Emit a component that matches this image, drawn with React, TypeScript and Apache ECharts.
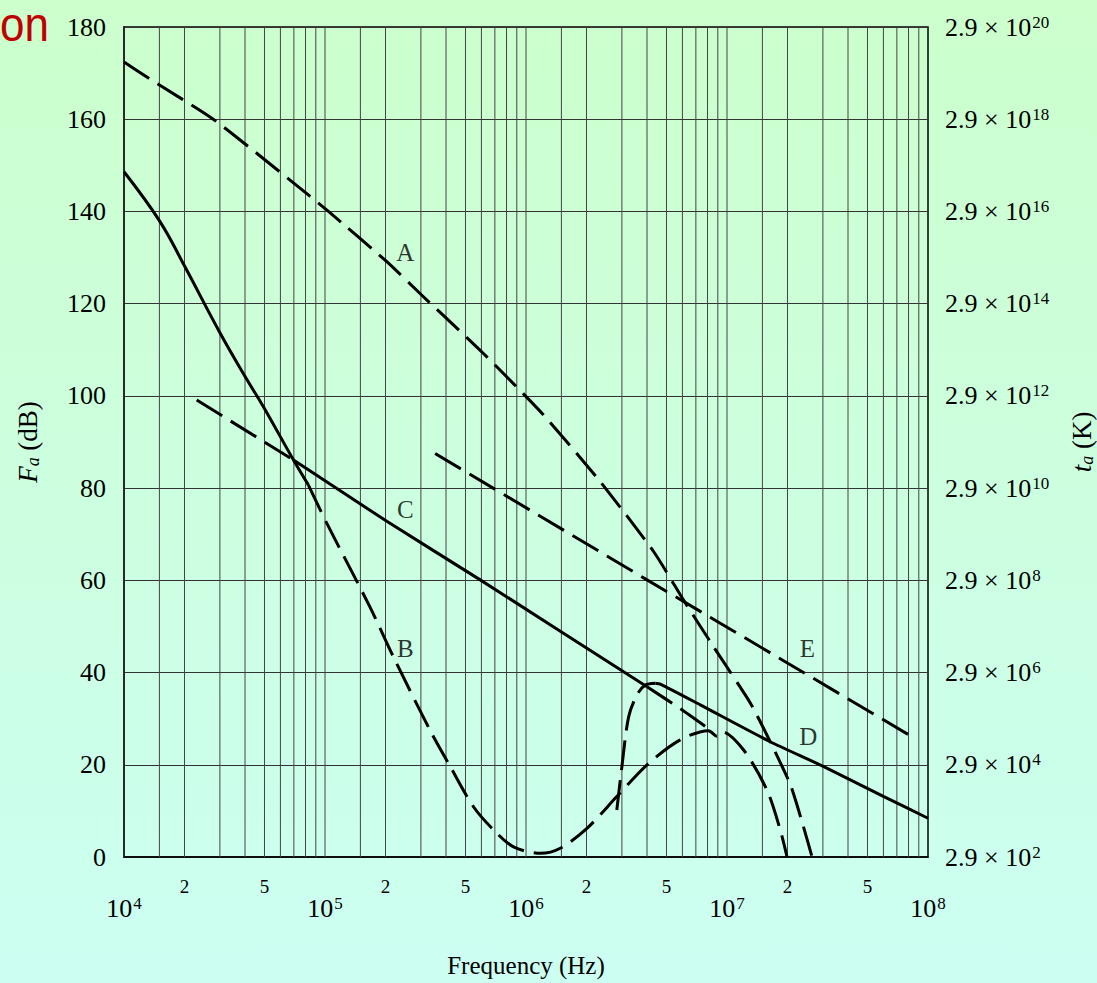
import React, { useEffect, useRef } from "react";
import * as echarts from "echarts";

// ---- data (frequency in Hz, value in dB) ----
const curveA: [number, number][] = [
  [1e4, 172.4], [1.37e4, 168.5], [2.78e4, 160], [6.7e4, 146.8], [1.04e5, 140],
  [2.03e5, 129.1], [2.97e5, 122.2], [6.14e5, 109.2], [1.22e6, 95.9], [2.34e6, 81.4],
  [4.32e6, 66.2], [6.08e6, 55.7], [8.57e6, 45.6], [1.31e7, 33.3], [1.64e7, 25.0],
  [2.07e7, 15.6], [2.4e7, 6.6], [2.65e7, 0],
];
const curveBSolid: [number, number][] = [
  [1e4, 148.6], [1.51e4, 137.8], [2.01e4, 128.0], [3.01e4, 113.6], [4.08e4, 103.6],
  [4.93e4, 97.7], [6.97e4, 86.1], [8.26e4, 80.7],
];
const curveBDashed: [number, number][] = [
  [8.26e4, 80.7], [1.02e5, 72.4], [1.67e5, 54.3], [2.19e5, 43.4], [3.33e5, 27.5],
  [4.2e5, 19.6], [5.48e5, 10.9], [6.89e5, 5.9], [8.67e5, 2.2], [1.18e6, 0.8],
  [1.48e6, 1.9], [2.01e6, 6.2], [2.83e6, 13.1], [4.0e6, 20.0], [5.85e6, 25.4],
  [8.09e6, 27.4], [8.91e6, 26.2], [9.44e6, 27.2], [1.21e7, 23.2], [1.58e7, 14.5],
  [1.84e7, 5.9], [1.99e7, 0],
];
const curveCDashed: [number, number][] = [[2.3e4, 99.1], [6.97e4, 86.1]];
const curveCSolid: [number, number][] = [
  [6.97e4, 86.1], [2.03e5, 72.8], [5.92e5, 60.1], [4.0e6, 36.9],
];
const curveCExtension: [number, number][] = [[4.0e6, 36.9], [5.85e6, 32.2], [8.3e6, 27.5]];
const curveDDashed: [number, number][] = [
  [2.83e6, 10.2], [3.0e6, 19.6], [3.24e6, 30.4], [3.56e6, 35.1], [3.92e6, 37.3], [4.4e6, 37.7],
];
const curveDSolid: [number, number][] = [
  [4.4e6, 37.7], [4.66e6, 37.5], [7.36e6, 33.0], [1.64e7, 25.0], [3.03e7, 19.6],
  [6.03e7, 13.1], [1e8, 8.4],
];
const curveE: [number, number][] = [[3.53e5, 87.5], [4.0e6, 60.1], [8.02e7, 26.5]];

const curveLabels = [
  { name: "A", value: [2.51e5, 131.1] },
  { name: "B", value: [2.51e5, 45.3] },
  { name: "C", value: [2.51e5, 75.3] },
  { name: "D", value: [2.54e7, 26.2] },
  { name: "E", value: [2.51e7, 45.3] },
];

const minorLabelFreqs = [2e4, 5e4, 2e5, 5e5, 2e6, 5e6, 2e7, 5e7];
const minorLabelTexts = ["2", "5", "2", "5", "2", "5", "2", "5"];
const gridDecades = [1e4, 1e5, 1e6, 1e7];
const gridMultipliers = [1, 1.5, 2, 3, 4, 5, 6, 7, 8, 9];
const rightTickExponents = [2, 4, 6, 8, 10, 12, 14, 16, 18, 20];

const SERIF = "'Liberation Serif', 'Times New Roman', serif";

export default function App() {
  const ref = useRef<HTMLDivElement>(null);
  useEffect(() => {
    if (!ref.current) return;
    const chart = echarts.init(ref.current, undefined, { renderer: "svg" });
    const vGrid: number[][] = [];
    gridDecades.forEach((d) => gridMultipliers.forEach((m) => vGrid.push([d * m, 0])));

    const line = (name: string, data: [number, number][], dashed: boolean, smooth: number | boolean) => ({
      type: "line",
      name,
      data,
      symbol: "none",
      showSymbol: false,
      smooth,
      silent: true,
      z: 3,
      lineStyle: { color: "#000", width: 3, type: dashed ? [30, 10] : "solid", cap: "butt" },
    });

    const nameRich = {
      i: { fontSize: 27, fontStyle: "italic", fontFamily: SERIF, color: "#000" },
      sub: { fontSize: 18, fontStyle: "italic", fontFamily: SERIF, color: "#000", verticalAlign: "bottom", padding: [10, 0, 0, 0] },
      n: { fontSize: 27, fontFamily: SERIF, color: "#000" },
    };
    const supRich = {
      b: { fontSize: 26, fontFamily: SERIF, color: "#000" },
      sup: { fontSize: 17, fontFamily: SERIF, color: "#000", verticalAlign: "top", padding: [0, 0, 10, 1] },
    };

    chart.setOption({
      animation: false,
      backgroundColor: new echarts.graphic.LinearGradient(0, 0, 0, 1, [
        { offset: 0, color: "#ccffcc" },
        { offset: 1, color: "#ccfff2" },
      ]),
      grid: {
        left: 124, top: 27, right: 169, bottom: 126,
        show: true, borderColor: "#000", borderWidth: 1.5, backgroundColor: "transparent",
        containLabel: false, outerBoundsMode: "none",
      },
      graphic: [
        {
          type: "text", left: 0, top: 0, scaleY: 1.1,
          style: { text: "on", fontSize: 44, fill: "#c00000", fontFamily: "'Liberation Sans', Arial, sans-serif" },
        },
      ],
      xAxis: [
        {
          type: "log", logBase: 10, min: 1e4, max: 1e8, position: "bottom",
          axisLine: { show: true, lineStyle: { color: "#000", width: 1.5 } },
          axisTick: { show: false }, splitLine: { show: false },
          axisLabel: {
            margin: 38, color: "#000",
            formatter: (v: number) => `{b|10}{sup|${Math.round(Math.log10(v))}}`,
            rich: supRich,
          },
          name: "Frequency (Hz)", nameLocation: "middle", nameGap: 96,
          nameTextStyle: { fontFamily: SERIF, fontSize: 25, color: "#000" },
        },
        {
          type: "log", logBase: 10, min: 1e4, max: 1e8, position: "bottom",
          axisLine: { show: false }, axisTick: { show: false }, splitLine: { show: false },
          axisLabel: {
            customValues: minorLabelFreqs, margin: 20, color: "#000",
            fontSize: 19, fontFamily: SERIF,
            formatter: (v: number) => {
              const i = minorLabelFreqs.findIndex((f) => Math.abs(f - v) / f < 1e-6);
              return i >= 0 ? minorLabelTexts[i] : "";
            },
          },
        },
      ],
      yAxis: [
        {
          type: "value", min: 0, max: 180, interval: 20,
          axisLine: { show: true, lineStyle: { color: "#000", width: 1.5 } },
          axisTick: { show: false },
          splitLine: { show: true, lineStyle: { color: "#333", width: 1 } },
          axisLabel: { fontSize: 26, fontFamily: SERIF, color: "#000", margin: 18 },
          name: "{i|F}{sub|a}{n| (dB)}", nameLocation: "middle", nameGap: 82,
          nameTextStyle: { rich: nameRich },
        },
        {
          type: "value", min: 0, max: 180, interval: 20, position: "right",
          axisLine: { show: false }, axisTick: { show: false }, splitLine: { show: false },
          axisLabel: {
            margin: 17, color: "#000",
            formatter: (_v: number, i: number) => `{b|2.9 × 10}{sup|${rightTickExponents[i]}}`,
            rich: supRich,
          },
          name: "{i|t}{sub|a}{n| (K)}", nameLocation: "middle", nameGap: 140,
          nameTextStyle: { rich: nameRich },
        },
      ],
      series: [
        {
          type: "custom", name: "vgrid", data: vGrid, silent: true, z: 1,
          renderItem: (_p: any, api: any) => {
            const f = api.value(0);
            const a = api.coord([f, 0]);
            const b = api.coord([f, 180]);
            return { type: "line", shape: { x1: a[0], y1: a[1], x2: b[0], y2: b[1] }, style: { stroke: "#444", lineWidth: 1 } };
          },
        },
        line("A", curveA, true, 0.2),
        line("B solid", curveBSolid, false, 0.4),
        line("B", curveBDashed, true, 0.3),
        line("C dashed", curveCDashed, true, false),
        line("C", curveCSolid, false, 0.2),
        line("C ext", curveCExtension, true, 0.2),
        line("D rise", curveDDashed, true, 0.3),
        line("D", curveDSolid, false, 0.2),
        line("E", curveE, true, false),
        {
          type: "scatter", name: "labels", data: curveLabels, symbolSize: 1, silent: true, z: 4,
          itemStyle: { color: "rgba(0,0,0,0)" },
          label: {
            show: true, position: "inside", formatter: "{b}", fontSize: 25, fontFamily: SERIF,
            color: "#000", textBorderWidth: 0,
          },
        },
      ],
    });
    return () => chart.dispose();
  }, []);
  return <div ref={ref} style={{ position: "fixed", left: 0, top: 0, width: 1097, height: 983 }} />;
}
